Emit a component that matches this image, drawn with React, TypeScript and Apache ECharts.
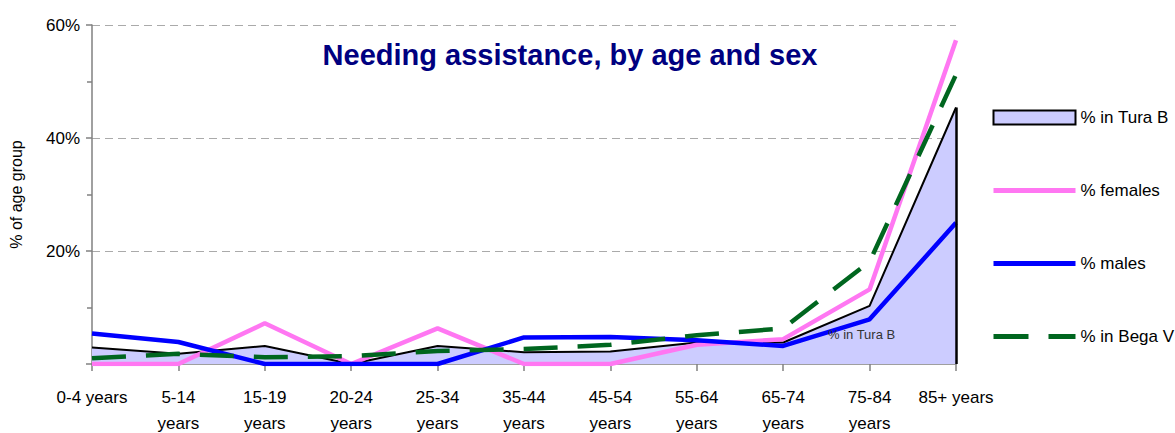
import React, { useEffect, useRef } from 'react';
import * as echarts from 'echarts';

const categories = ['0-4 years', '5-14\nyears', '15-19\nyears', '20-24\nyears', '25-34\nyears', '35-44\nyears', '45-54\nyears', '55-64\nyears', '65-74\nyears', '75-84\nyears', '85+ years'];
const turaB = [2.9, 1.8, 3.2, 0, 3.2, 2.1, 2.2, 3.8, 3.8, 10.3, 45.4];
const females = [0, 0, 7.2, 0, 6.3, 0, 0, 3.4, 4.4, 13.2, 57.3];
const males = [5.4, 3.9, 0, 0, 0, 4.7, 4.8, 4.2, 3.2, 7.9, 25.0];
const begaV = [1.0, 1.8, 1.2, 1.4, 2.3, 2.65, 3.4, 5.1, 6.3, 18.1, 51.2];
const yMin = 0;
const yMax = 60;
const yStep = 20;
const seriesNames = ['% in Tura B', '% females', '% males', '% in Bega V'];
const titleText = 'Needing assistance, by age and sex';
const yAxisName = '% of age group';

const FONT = '"Liberation Sans", Arial, sans-serif';
const PINK = '#ff77f2';
const BLUE = '#0000ff';
const GREEN = '#00661f';

export default function App() {
  const ref = useRef<HTMLDivElement>(null);
  useEffect(() => {
    document.body.style.margin = '0';
    const chart = echarts.init(ref.current!, undefined, { renderer: 'svg' });
    const lastIdx = turaB.length - 1;
    chart.setOption({
      animation: false,
      backgroundColor: '#ffffff',
      textStyle: { fontFamily: FONT },
      title: {
        text: titleText,
        left: 565,
        top: 35,
        textAlign: 'center',
        textStyle: { color: '#000080', fontSize: 29, fontWeight: 'bold', fontFamily: FONT },
      },
      grid: { left: 92, top: 25, width: 864, height: 339, containLabel: false, outerBoundsMode: 'none' },
      legend: {
        orient: 'vertical',
        left: 986,
        top: 104,
        itemWidth: 82,
        itemHeight: 14,
        itemGap: 56,
        textStyle: { fontSize: 17, color: '#000', fontFamily: FONT },
        data: [
          { name: seriesNames[0], icon: 'rect', itemStyle: { color: '#ccccff', borderColor: '#000', borderWidth: 2 } },
          { name: seriesNames[1], itemStyle: { opacity: 0 }, lineStyle: { color: PINK, width: 5, type: 'solid' } },
          { name: seriesNames[2], itemStyle: { opacity: 0 }, lineStyle: { color: BLUE, width: 5, type: 'solid' } },
          { name: seriesNames[3], itemStyle: { opacity: 0 }, lineStyle: { color: GREEN, width: 5, type: [35, 20] } },
        ],
      },
      xAxis: {
        type: 'category',
        data: categories,
        boundaryGap: false,
        axisLine: { show: true, lineStyle: { color: '#808080', width: 1.5 } },
        axisTick: { show: true, length: 7, alignWithLabel: true, lineStyle: { color: '#808080', width: 1.5 } },
        axisLabel: { color: '#000', fontSize: 17, lineHeight: 26, margin: 20, interval: 0, fontFamily: FONT },
        splitLine: { show: false },
      },
      yAxis: {
        type: 'value',
        min: yMin,
        max: yMax,
        interval: yStep,
        name: yAxisName,
        nameLocation: 'middle',
        nameRotate: 90,
        nameGap: 68,
        nameTextStyle: { color: '#000', fontSize: 16, fontFamily: FONT },
        axisLine: { show: true, lineStyle: { color: '#808080', width: 1.5 } },
        axisTick: { show: true, length: 6, lineStyle: { color: '#808080', width: 1.5 } },
        minorTick: { show: true, splitNumber: 2, length: 5, lineStyle: { color: '#808080', width: 1.5 } },
        axisLabel: {
          color: '#000',
          fontSize: 17,
          margin: 12,
          fontFamily: FONT,
          formatter: (v: number) => (v === yMin ? '' : v + '%'),
        },
        splitLine: {
          show: true,
          lineStyle: { color: '#aaaaaa', type: [8, 5], width: 1 },
          showMinLine: false,
        },
      },
      series: [
        {
          name: seriesNames[0],
          type: 'line',
          data: turaB,
          symbol: 'none',
          z: 1,
          itemStyle: { color: '#ccccff' },
          lineStyle: { color: '#000', width: 2 },
          areaStyle: { color: '#ccccff', opacity: 1 },
          markLine: {
            silent: true,
            symbol: 'none',
            label: { show: false },
            lineStyle: { color: '#000', width: 2.5, type: 'solid' },
            data: [[{ coord: [lastIdx, 0] }, { coord: [lastIdx, turaB[lastIdx]] }]],
          },
        },
        {
          name: seriesNames[1],
          type: 'line',
          data: females,
          symbol: 'none',
          z: 3,
          itemStyle: { color: PINK },
          lineStyle: { color: PINK, width: 4.5 },
        },
        {
          name: seriesNames[2],
          type: 'line',
          data: males,
          symbol: 'none',
          z: 4,
          itemStyle: { color: BLUE },
          lineStyle: { color: BLUE, width: 4.5 },
        },
        {
          name: seriesNames[3],
          type: 'line',
          data: begaV,
          symbol: 'none',
          z: 5,
          itemStyle: { color: GREEN },
          lineStyle: { color: GREEN, width: 4.5, type: [34, 20] },
        },
      ],
      graphic: [
        {
          type: 'text',
          left: 828,
          top: 328,
          z: 10,
          style: { text: seriesNames[0], fontSize: 13, fill: '#333', fontFamily: FONT },
        },
      ],
    });
    return () => chart.dispose();
  }, []);
  return <div ref={ref} style={{ position: 'fixed', left: 0, top: 0, width: 1175, height: 433 }} />;
}
